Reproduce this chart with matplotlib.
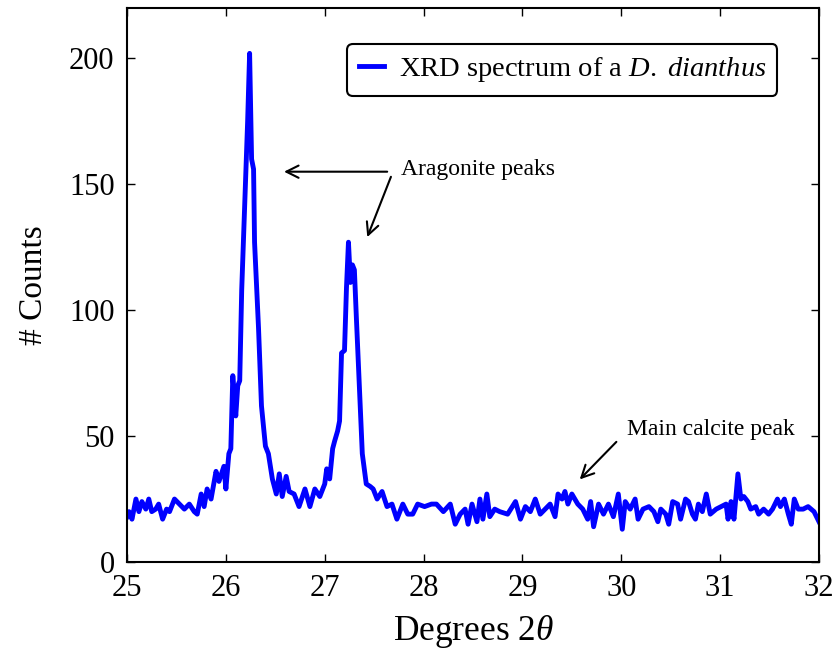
import matplotlib
matplotlib.use("Agg")
import matplotlib.pyplot as plt

plt.rcParams['font.family'] = ['Liberation Serif', 'DejaVu Serif']
plt.rcParams['mathtext.fontset'] = 'custom'
plt.rcParams['mathtext.rm'] = 'Liberation Serif'
plt.rcParams['mathtext.it'] = 'Liberation Serif:italic'

# data
two_theta = [25.00, 25.02, 25.05, 25.09, 25.12, 25.15, 25.19, 25.22, 25.25, 25.29,
             25.32, 25.36, 25.40, 25.43, 25.48, 25.53, 25.58, 25.63, 25.68, 25.71,
             25.75, 25.78, 25.81, 25.85, 25.90, 25.93, 25.98, 26.00, 26.03, 26.05,
             26.07, 26.10, 26.12, 26.14, 26.16, 26.19, 26.22, 26.24, 26.26, 26.28,
             26.29, 26.33, 26.36, 26.40, 26.43, 26.47, 26.51, 26.54, 26.57, 26.61,
             26.64, 26.69, 26.74, 26.80, 26.85, 26.90, 26.95, 27.00, 27.02, 27.05,
             27.08, 27.10, 27.13, 27.15, 27.17, 27.20, 27.22, 27.24, 27.26, 27.28,
             27.30, 27.32, 27.35, 27.38, 27.42, 27.46, 27.49, 27.53, 27.58, 27.63,
             27.68, 27.73, 27.79, 27.84, 27.89, 27.94, 28.01, 28.08, 28.13, 28.20,
             28.27, 28.32, 28.37, 28.42, 28.45, 28.49, 28.54, 28.57, 28.60, 28.64,
             28.67, 28.72, 28.77, 28.85, 28.93, 28.98, 29.03, 29.08, 29.13, 29.18,
             29.23, 29.28, 29.33, 29.36, 29.40, 29.43, 29.46, 29.50, 29.56, 29.61,
             29.66, 29.69, 29.72, 29.77, 29.82, 29.87, 29.92, 29.97, 30.01, 30.04,
             30.09, 30.14, 30.17, 30.22, 30.28, 30.33, 30.37, 30.40, 30.45, 30.48,
             30.52, 30.57, 30.60, 30.65, 30.68, 30.72, 30.75, 30.78, 30.82, 30.86,
             30.90, 30.96, 31.01, 31.06, 31.08, 31.11, 31.14, 31.18, 31.21, 31.24,
             31.28, 31.31, 31.36, 31.39, 31.44, 31.49, 31.53, 31.58, 31.61, 31.65,
             31.69, 31.72, 31.75, 31.79, 31.84, 31.89, 31.92, 31.95, 32.00]
counts = [18, 20, 17, 25, 20, 24, 21, 25, 20, 21,
          23, 17, 21, 20, 25, 23, 21, 23, 20, 19,
          27, 22, 29, 25, 36, 32, 38, 29, 43, 45,
          74, 58, 70, 72, 108, 141, 175, 202, 160, 156,
          127, 93, 62, 46, 43, 33, 27, 35, 26, 34,
          28, 27, 22, 29, 22, 29, 26, 31, 37, 33,
          45, 48, 52, 56, 83, 84, 109, 127, 111, 118,
          116, 97, 70, 43, 31, 30, 29, 25, 28, 22,
          23, 17, 23, 19, 19, 23, 22, 23, 23, 20,
          23, 15, 19, 21, 15, 23, 16, 25, 17, 27,
          18, 21, 20, 19, 24, 17, 22, 20, 25, 19,
          21, 23, 18, 27, 25, 28, 23, 27, 23, 21,
          17, 24, 14, 23, 19, 23, 18, 27, 13, 24,
          21, 25, 17, 21, 22, 20, 16, 21, 19, 15,
          24, 23, 17, 25, 24, 19, 17, 23, 20, 27,
          19, 21, 22, 23, 17, 24, 17, 35, 25, 26,
          24, 21, 22, 19, 21, 19, 21, 25, 22, 25,
          19, 15, 25, 21, 21, 22, 21, 20, 16]

x_ticks = [25, 26, 27, 28, 29, 30, 31, 32]
y_ticks = [0, 50, 100, 150, 200]

fig = plt.figure(figsize=(8.38, 6.57), dpi=100)
ax = fig.add_axes([0.1516, 0.1446, 0.8257, 0.8432])

ax.plot(two_theta, counts, color='#0000ff', lw=3.5,
        label='XRD spectrum of a $\\it{D.\\ dianthus}$')

ax.set_xlim(25, 32)
ax.set_ylim(0, 220)
ax.set_xticks(x_ticks)
ax.set_yticks(y_ticks)
ax.tick_params(direction='in', top=True, right=True, length=6, width=1,
               labelsize=22, pad=9)
for sp in ax.spines.values():
    sp.set_linewidth(1.5)

ax.set_xlabel('Degrees 2$\\theta$', fontsize=25.5, labelpad=7)
ax.set_ylabel('# Counts', fontsize=24, labelpad=14)

# annotations
ax.text(27.77, 156, 'Aragonite peaks', fontsize=17, va='center', ha='left')
ax.annotate('', xy=(26.56, 155), xytext=(27.66, 155),
            arrowprops=dict(arrowstyle='->', color='black', lw=1.5,
                            mutation_scale=22))
ax.annotate('', xy=(27.42, 128), xytext=(27.68, 154),
            arrowprops=dict(arrowstyle='->', color='black', lw=1.5,
                            mutation_scale=22))
ax.text(30.06, 52.5, 'Main calcite peak', fontsize=17, va='center', ha='left')
ax.annotate('', xy=(29.56, 32), xytext=(29.97, 48.5),
            arrowprops=dict(arrowstyle='->', color='black', lw=1.5,
                            mutation_scale=22))

leg = ax.legend(loc='upper right', bbox_to_anchor=(0.94, 0.935),
                borderaxespad=0, fontsize=20.5, handlelength=0.9,
                handletextpad=0.5, fancybox=True, framealpha=1)
leg.get_frame().set_edgecolor('black')
leg.get_frame().set_linewidth(1.5)

plt.savefig('out.png', dpi=100)
plt.close()
